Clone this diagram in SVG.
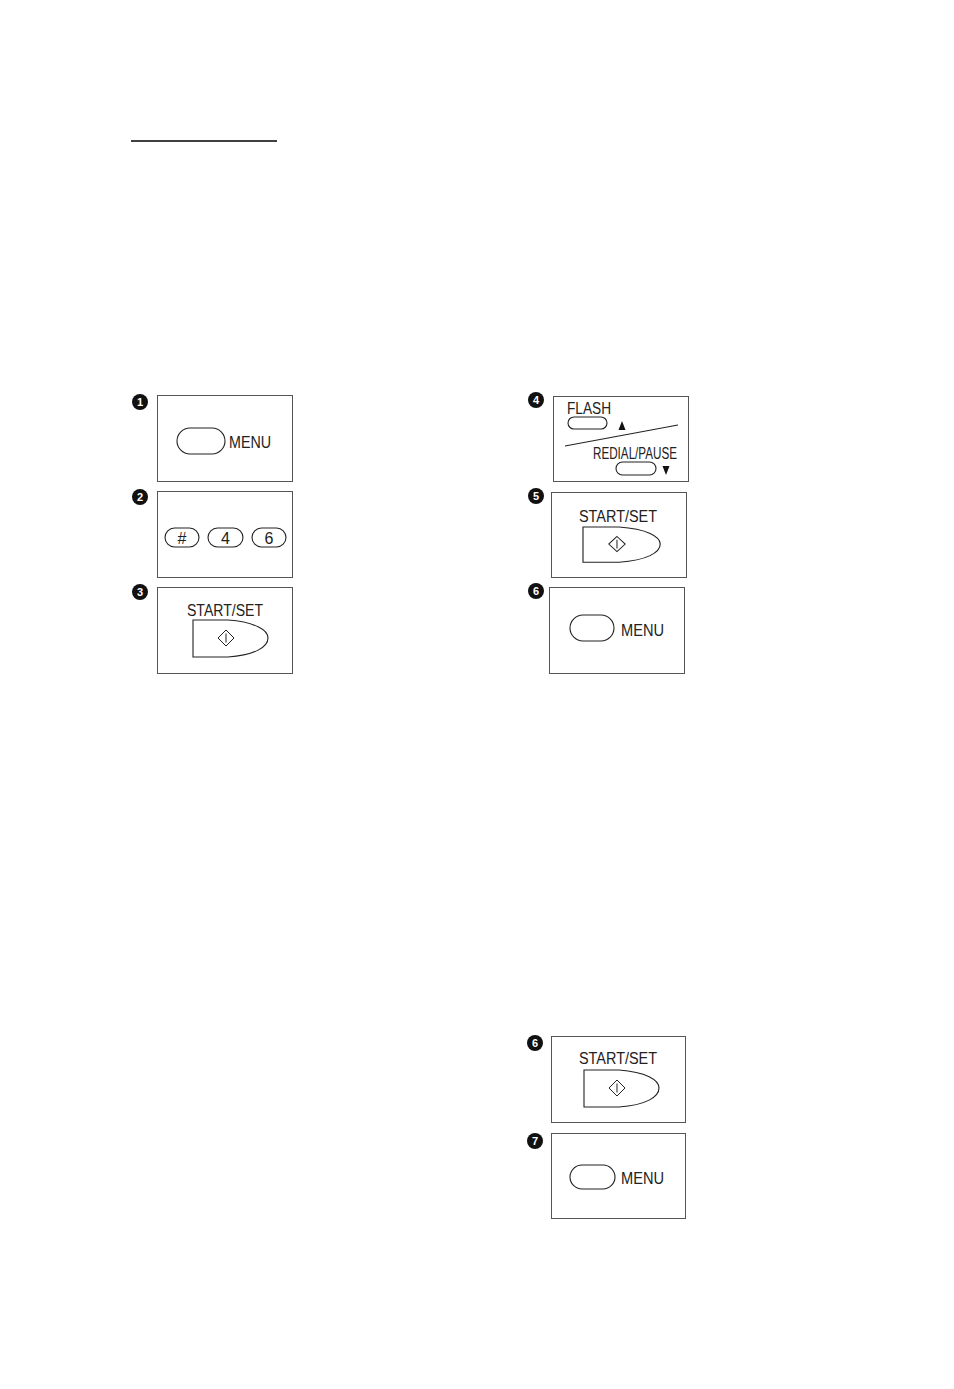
<svg xmlns="http://www.w3.org/2000/svg" width="954" height="1389" viewBox="0 0 954 1389">
<style>
.panel{fill:none;stroke:#555;stroke-width:1}
.btn{fill:#fff;stroke:#222;stroke-width:1.1}
.lbl{font-family:"Liberation Sans",Arial,sans-serif;font-size:16px;fill:#222}
.num{fill:#111}
.numt{font-family:"Liberation Sans",Arial,sans-serif;font-size:11px;font-weight:bold;fill:#fff;text-anchor:middle}
.key{font-family:"Liberation Sans",Arial,sans-serif;font-size:16px;fill:#222;text-anchor:middle}
.icon{fill:none;stroke:#222;stroke-width:1}
</style>
<defs>
<g id="startbtn">
<path class="btn" d="M0,0 L35,0 C62,2 75,10 75,18 C75,27 62,35 35,37 L0,37 Z"/>
<path class="icon" d="M33,10 L41,18 L33,26 L25,18 Z M33,13.5 L33,22.5"/>
</g>
</defs>
<rect width="954" height="1389" fill="#fff"/>
<line x1="131" y1="141" x2="277" y2="141" stroke="#000" stroke-width="1.5"/>

<g id="step1">
<rect class="panel" x="157.5" y="395.5" width="135" height="86"/>
<circle class="num" cx="140" cy="402" r="8"/><text class="numt" x="140" y="406">1</text>
<rect class="btn" x="177" y="428" width="48" height="26" rx="13"/>
<text class="lbl" x="229" y="447.5" textLength="42" lengthAdjust="spacingAndGlyphs" font-size="17.5">MENU</text>
</g>

<g id="step2">
<rect class="panel" x="157.5" y="491.5" width="135" height="86"/>
<circle class="num" cx="140" cy="497" r="8"/><text class="numt" x="140" y="501">2</text>
<rect class="btn" x="165" y="528" width="34" height="19" rx="9.5"/>
<text class="key" x="182" y="543.5">#</text>
<rect class="btn" x="208" y="528" width="35" height="19" rx="9.5"/>
<text class="key" x="225.5" y="543.5">4</text>
<rect class="btn" x="252" y="528" width="34" height="19" rx="9.5"/>
<text class="key" x="269" y="543.5">6</text>
</g>

<g id="step3">
<rect class="panel" x="157.5" y="587.5" width="135" height="86"/>
<circle class="num" cx="140" cy="592" r="8"/><text class="numt" x="140" y="596">3</text>
<text class="lbl" x="187" y="615.5" textLength="76" lengthAdjust="spacingAndGlyphs">START/SET</text>
<use href="#startbtn" x="193" y="620"/>
</g>

<g id="step4">
<rect class="panel" x="553.5" y="396.5" width="135" height="85"/>
<circle class="num" cx="536" cy="400" r="8"/><text class="numt" x="536" y="404">4</text>
<text class="lbl" x="567" y="413.5" textLength="44" lengthAdjust="spacingAndGlyphs" font-size="15">FLASH</text>
<rect class="btn" x="568" y="417" width="39" height="12" rx="6"/>
<path d="M618.5,430 L622,421 L625.5,430 Z" fill="#111"/>
<line x1="565" y1="446" x2="678" y2="425" stroke="#222" stroke-width="1.1"/>
<text class="lbl" x="593" y="459" textLength="84" lengthAdjust="spacingAndGlyphs" font-size="14.5">REDIAL/PAUSE</text>
<rect class="btn" x="616" y="462" width="40" height="13" rx="6.5"/>
<path d="M662.5,466 L666,475 L669.5,466 Z" fill="#111"/>
</g>

<g id="step5">
<rect class="panel" x="551.5" y="492.5" width="135" height="85"/>
<circle class="num" cx="536" cy="496" r="8"/><text class="numt" x="536" y="500">5</text>
<text class="lbl" x="579" y="521.5" textLength="78" lengthAdjust="spacingAndGlyphs">START/SET</text>
<use href="#startbtn" transform="translate(583,527) scale(1.03,0.95)"/>
</g>

<g id="step6">
<rect class="panel" x="549.5" y="587.5" width="135" height="86"/>
<circle class="num" cx="536" cy="591" r="8"/><text class="numt" x="536" y="595">6</text>
<rect class="btn" x="570" y="615" width="44" height="26" rx="13"/>
<text class="lbl" x="621" y="635.5" textLength="43" lengthAdjust="spacingAndGlyphs" font-size="17.5">MENU</text>
</g>

<g id="step6b">
<rect class="panel" x="551.5" y="1036.5" width="134" height="86"/>
<circle class="num" cx="535" cy="1043" r="8"/><text class="numt" x="535" y="1047">6</text>
<text class="lbl" x="579" y="1063.5" textLength="78" lengthAdjust="spacingAndGlyphs">START/SET</text>
<use href="#startbtn" x="584" y="1070"/>
</g>

<g id="step7">
<rect class="panel" x="551.5" y="1133.5" width="134" height="85"/>
<circle class="num" cx="535" cy="1141" r="8"/><text class="numt" x="535" y="1145">7</text>
<rect class="btn" x="570" y="1165" width="45" height="24" rx="12"/>
<text class="lbl" x="621" y="1183.5" textLength="43" lengthAdjust="spacingAndGlyphs" font-size="17.5">MENU</text>
</g>
</svg>
